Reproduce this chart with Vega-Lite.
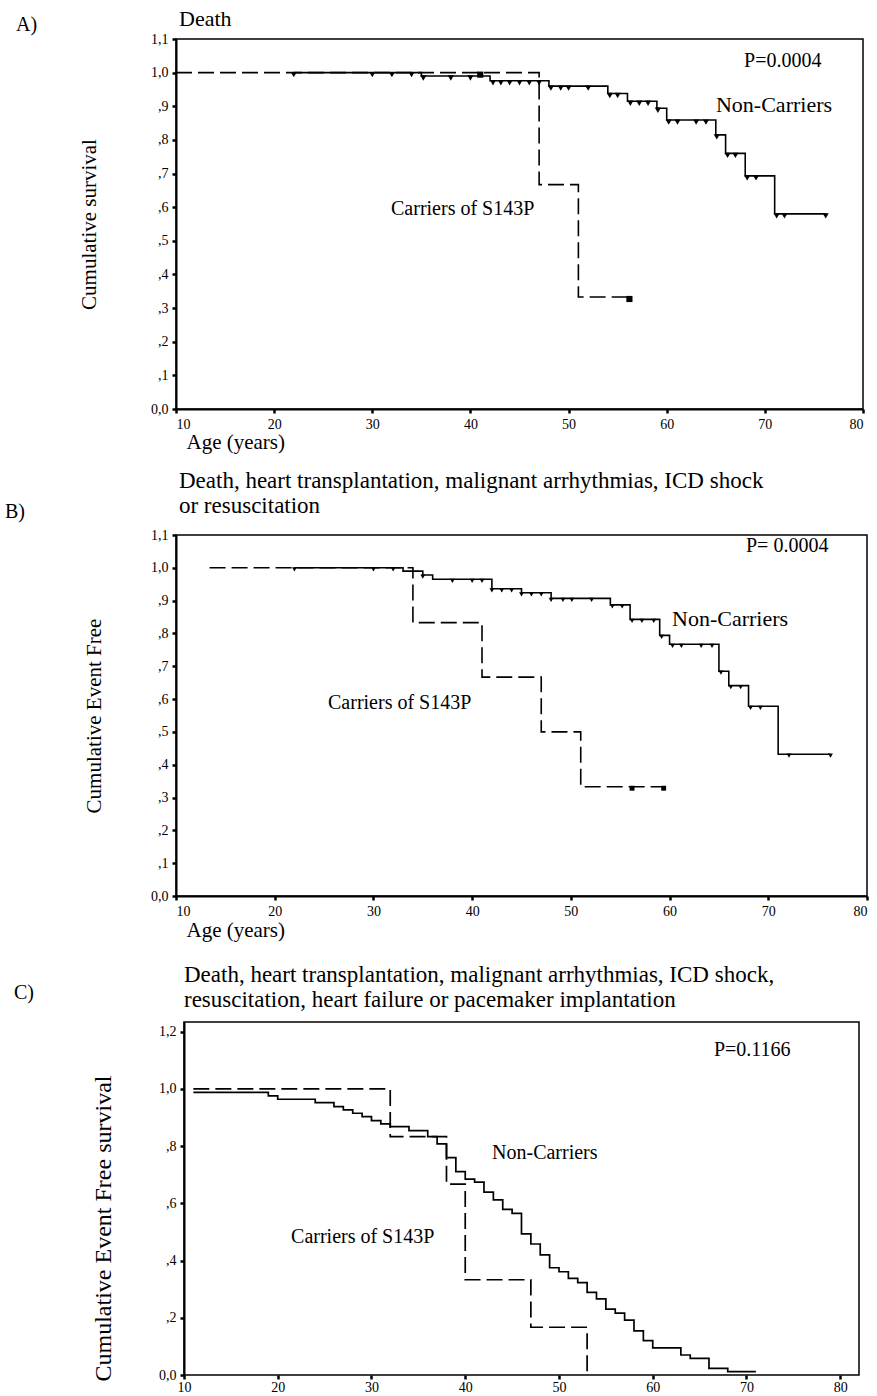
{
  "$schema": "https://vega.github.io/schema/vega-lite/v6.json",
  "padding": {"left": 4, "top": 7, "right": 5, "bottom": 0},
  "bounds": "flush",
  "spacing": 126,
  "config": {
    "font": "Liberation Serif",
    "view": {"stroke": "black", "strokeWidth": 1.5},
    "axis": {"grid": false, "domainColor": "black", "domainWidth": 2, "tickColor": "black", "tickWidth": 2.5, "tickSize": 4, "labelColor": "black", "labelFont": "Liberation Serif", "labelFontSize": 14, "labelPadding": 4, "labelOverlap": false, "titleFont": "Liberation Serif", "titleFontWeight": "normal", "titleColor": "black", "titleFontSize": 21},
    "text": {"font": "Liberation Serif", "color": "black"}
  },
  "datasets": {
    "a_curve": [
      {"age": 22, "surv": 1.0, "group": "Non-Carriers"},
      {"age": 35, "surv": 0.99, "group": "Non-Carriers"},
      {"age": 42, "surv": 0.976, "group": "Non-Carriers"},
      {"age": 48, "surv": 0.96, "group": "Non-Carriers"},
      {"age": 54, "surv": 0.938, "group": "Non-Carriers"},
      {"age": 56, "surv": 0.915, "group": "Non-Carriers"},
      {"age": 59, "surv": 0.894, "group": "Non-Carriers"},
      {"age": 60, "surv": 0.859, "group": "Non-Carriers"},
      {"age": 65, "surv": 0.815, "group": "Non-Carriers"},
      {"age": 66, "surv": 0.76, "group": "Non-Carriers"},
      {"age": 68, "surv": 0.693, "group": "Non-Carriers"},
      {"age": 71, "surv": 0.58, "group": "Non-Carriers"},
      {"age": 76.2, "surv": 0.58, "group": "Non-Carriers"},
      {"age": 10, "surv": 1.0, "group": "Carriers"},
      {"age": 47, "surv": 0.667, "group": "Carriers"},
      {"age": 51, "surv": 0.333, "group": "Carriers"},
      {"age": 56.2, "surv": 0.333, "group": "Carriers"}
    ],
    "a_censor": [
      {"age": 22, "surv": 1.0, "group": "Non-Carriers"},
      {"age": 30, "surv": 1.0, "group": "Non-Carriers"},
      {"age": 32, "surv": 1.0, "group": "Non-Carriers"},
      {"age": 34, "surv": 1.0, "group": "Non-Carriers"},
      {"age": 35.2, "surv": 0.99, "group": "Non-Carriers"},
      {"age": 38, "surv": 0.99, "group": "Non-Carriers"},
      {"age": 40, "surv": 0.99, "group": "Non-Carriers"},
      {"age": 42.3, "surv": 0.976, "group": "Non-Carriers"},
      {"age": 43.1, "surv": 0.976, "group": "Non-Carriers"},
      {"age": 44, "surv": 0.976, "group": "Non-Carriers"},
      {"age": 45, "surv": 0.976, "group": "Non-Carriers"},
      {"age": 46, "surv": 0.976, "group": "Non-Carriers"},
      {"age": 47, "surv": 0.976, "group": "Non-Carriers"},
      {"age": 48.2, "surv": 0.96, "group": "Non-Carriers"},
      {"age": 49.2, "surv": 0.96, "group": "Non-Carriers"},
      {"age": 50, "surv": 0.96, "group": "Non-Carriers"},
      {"age": 52, "surv": 0.96, "group": "Non-Carriers"},
      {"age": 54.2, "surv": 0.938, "group": "Non-Carriers"},
      {"age": 55, "surv": 0.938, "group": "Non-Carriers"},
      {"age": 56.3, "surv": 0.915, "group": "Non-Carriers"},
      {"age": 57.2, "surv": 0.915, "group": "Non-Carriers"},
      {"age": 58.1, "surv": 0.915, "group": "Non-Carriers"},
      {"age": 59.1, "surv": 0.894, "group": "Non-Carriers"},
      {"age": 60.2, "surv": 0.859, "group": "Non-Carriers"},
      {"age": 61.1, "surv": 0.859, "group": "Non-Carriers"},
      {"age": 63, "surv": 0.859, "group": "Non-Carriers"},
      {"age": 64, "surv": 0.859, "group": "Non-Carriers"},
      {"age": 65.1, "surv": 0.815, "group": "Non-Carriers"},
      {"age": 66.2, "surv": 0.76, "group": "Non-Carriers"},
      {"age": 67, "surv": 0.76, "group": "Non-Carriers"},
      {"age": 68.2, "surv": 0.693, "group": "Non-Carriers"},
      {"age": 69.1, "surv": 0.693, "group": "Non-Carriers"},
      {"age": 71.2, "surv": 0.58, "group": "Non-Carriers"},
      {"age": 72, "surv": 0.58, "group": "Non-Carriers"},
      {"age": 76.2, "surv": 0.58, "group": "Non-Carriers"},
      {"age": 41, "surv": 1.0, "group": "Carriers"},
      {"age": 56.2, "surv": 0.333, "group": "Carriers"}
    ],
    "b_curve": [
      {"age": 22, "surv": 1.0, "group": "Non-Carriers"},
      {"age": 33, "surv": 0.99, "group": "Non-Carriers"},
      {"age": 35, "surv": 0.978, "group": "Non-Carriers"},
      {"age": 36, "surv": 0.965, "group": "Non-Carriers"},
      {"age": 42, "surv": 0.936, "group": "Non-Carriers"},
      {"age": 45, "surv": 0.924, "group": "Non-Carriers"},
      {"age": 48, "surv": 0.907, "group": "Non-Carriers"},
      {"age": 54, "surv": 0.887, "group": "Non-Carriers"},
      {"age": 56, "surv": 0.843, "group": "Non-Carriers"},
      {"age": 59, "surv": 0.794, "group": "Non-Carriers"},
      {"age": 60, "surv": 0.767, "group": "Non-Carriers"},
      {"age": 65, "surv": 0.685, "group": "Non-Carriers"},
      {"age": 66, "surv": 0.641, "group": "Non-Carriers"},
      {"age": 68, "surv": 0.578, "group": "Non-Carriers"},
      {"age": 71, "surv": 0.432, "group": "Non-Carriers"},
      {"age": 76.3, "surv": 0.432, "group": "Non-Carriers"},
      {"age": 13.4, "surv": 1.0, "group": "Carriers"},
      {"age": 34, "surv": 0.833, "group": "Carriers"},
      {"age": 41, "surv": 0.667, "group": "Carriers"},
      {"age": 47, "surv": 0.5, "group": "Carriers"},
      {"age": 51, "surv": 0.333, "group": "Carriers"},
      {"age": 59.4, "surv": 0.333, "group": "Carriers"}
    ],
    "b_censor": [
      {"age": 22, "surv": 1.0, "group": "Non-Carriers"},
      {"age": 30, "surv": 1.0, "group": "Non-Carriers"},
      {"age": 32, "surv": 1.0, "group": "Non-Carriers"},
      {"age": 35, "surv": 0.978, "group": "Non-Carriers"},
      {"age": 38, "surv": 0.965, "group": "Non-Carriers"},
      {"age": 40, "surv": 0.965, "group": "Non-Carriers"},
      {"age": 41, "surv": 0.965, "group": "Non-Carriers"},
      {"age": 42, "surv": 0.936, "group": "Non-Carriers"},
      {"age": 43, "surv": 0.936, "group": "Non-Carriers"},
      {"age": 44, "surv": 0.936, "group": "Non-Carriers"},
      {"age": 45, "surv": 0.924, "group": "Non-Carriers"},
      {"age": 46, "surv": 0.924, "group": "Non-Carriers"},
      {"age": 47, "surv": 0.924, "group": "Non-Carriers"},
      {"age": 48, "surv": 0.907, "group": "Non-Carriers"},
      {"age": 49.2, "surv": 0.907, "group": "Non-Carriers"},
      {"age": 50.1, "surv": 0.907, "group": "Non-Carriers"},
      {"age": 52.1, "surv": 0.907, "group": "Non-Carriers"},
      {"age": 54.2, "surv": 0.887, "group": "Non-Carriers"},
      {"age": 55.2, "surv": 0.887, "group": "Non-Carriers"},
      {"age": 56.2, "surv": 0.843, "group": "Non-Carriers"},
      {"age": 57.2, "surv": 0.843, "group": "Non-Carriers"},
      {"age": 58.4, "surv": 0.843, "group": "Non-Carriers"},
      {"age": 59.2, "surv": 0.794, "group": "Non-Carriers"},
      {"age": 60.3, "surv": 0.767, "group": "Non-Carriers"},
      {"age": 61.2, "surv": 0.767, "group": "Non-Carriers"},
      {"age": 63.2, "surv": 0.767, "group": "Non-Carriers"},
      {"age": 64.3, "surv": 0.767, "group": "Non-Carriers"},
      {"age": 65.2, "surv": 0.685, "group": "Non-Carriers"},
      {"age": 66.2, "surv": 0.641, "group": "Non-Carriers"},
      {"age": 67.2, "surv": 0.641, "group": "Non-Carriers"},
      {"age": 68.2, "surv": 0.578, "group": "Non-Carriers"},
      {"age": 69.2, "surv": 0.578, "group": "Non-Carriers"},
      {"age": 72.1, "surv": 0.432, "group": "Non-Carriers"},
      {"age": 76.3, "surv": 0.432, "group": "Non-Carriers"},
      {"age": 56.2, "surv": 0.333, "group": "Carriers"},
      {"age": 59.4, "surv": 0.333, "group": "Carriers"}
    ],
    "c_curve": [
      {"age": 11, "surv": 0.988, "group": "Non-Carriers"},
      {"age": 19, "surv": 0.976, "group": "Non-Carriers"},
      {"age": 20, "surv": 0.964, "group": "Non-Carriers"},
      {"age": 24, "surv": 0.952, "group": "Non-Carriers"},
      {"age": 26, "surv": 0.938, "group": "Non-Carriers"},
      {"age": 27, "surv": 0.927, "group": "Non-Carriers"},
      {"age": 28, "surv": 0.915, "group": "Non-Carriers"},
      {"age": 29, "surv": 0.903, "group": "Non-Carriers"},
      {"age": 30, "surv": 0.889, "group": "Non-Carriers"},
      {"age": 31, "surv": 0.878, "group": "Non-Carriers"},
      {"age": 32, "surv": 0.868, "group": "Non-Carriers"},
      {"age": 34, "surv": 0.854, "group": "Non-Carriers"},
      {"age": 36, "surv": 0.833, "group": "Non-Carriers"},
      {"age": 37, "surv": 0.808, "group": "Non-Carriers"},
      {"age": 38, "surv": 0.76, "group": "Non-Carriers"},
      {"age": 39, "surv": 0.711, "group": "Non-Carriers"},
      {"age": 40, "surv": 0.685, "group": "Non-Carriers"},
      {"age": 41, "surv": 0.674, "group": "Non-Carriers"},
      {"age": 42, "surv": 0.639, "group": "Non-Carriers"},
      {"age": 43, "surv": 0.612, "group": "Non-Carriers"},
      {"age": 44, "surv": 0.579, "group": "Non-Carriers"},
      {"age": 45, "surv": 0.565, "group": "Non-Carriers"},
      {"age": 46, "surv": 0.493, "group": "Non-Carriers"},
      {"age": 47, "surv": 0.458, "group": "Non-Carriers"},
      {"age": 48, "surv": 0.42, "group": "Non-Carriers"},
      {"age": 49, "surv": 0.375, "group": "Non-Carriers"},
      {"age": 50, "surv": 0.361, "group": "Non-Carriers"},
      {"age": 51, "surv": 0.338, "group": "Non-Carriers"},
      {"age": 52, "surv": 0.323, "group": "Non-Carriers"},
      {"age": 53, "surv": 0.289, "group": "Non-Carriers"},
      {"age": 54, "surv": 0.266, "group": "Non-Carriers"},
      {"age": 55, "surv": 0.23, "group": "Non-Carriers"},
      {"age": 56, "surv": 0.216, "group": "Non-Carriers"},
      {"age": 57, "surv": 0.192, "group": "Non-Carriers"},
      {"age": 58, "surv": 0.154, "group": "Non-Carriers"},
      {"age": 59, "surv": 0.12, "group": "Non-Carriers"},
      {"age": 60, "surv": 0.095, "group": "Non-Carriers"},
      {"age": 63, "surv": 0.07, "group": "Non-Carriers"},
      {"age": 64, "surv": 0.058, "group": "Non-Carriers"},
      {"age": 66, "surv": 0.023, "group": "Non-Carriers"},
      {"age": 68, "surv": 0.012, "group": "Non-Carriers"},
      {"age": 71, "surv": 0.012, "group": "Non-Carriers"},
      {"age": 11, "surv": 1.0, "group": "Carriers"},
      {"age": 32, "surv": 0.833, "group": "Carriers"},
      {"age": 38, "surv": 0.667, "group": "Carriers"},
      {"age": 40, "surv": 0.333, "group": "Carriers"},
      {"age": 47, "surv": 0.167, "group": "Carriers"},
      {"age": 53, "surv": 0.0, "group": "Carriers"}
    ]
  },
  "vconcat": [
    {
      "width": 687,
      "height": 370,
      "layer": [
        {
          "data": {"name": "a_curve"},
          "mark": {"type": "line", "interpolate": "step-after", "color": "black", "strokeWidth": 1.6},
          "encoding": {
            "x": {"field": "age", "type": "quantitative", "scale": {"domain": [10, 80], "nice": false, "zero": false},
              "axis": {"title": "Age (years)", "values": [10, 20, 30, 40, 50, 60, 70, 80], "tickCount": 8, "format": "d", "labelOverlap": false, "titleAnchor": "start", "titleAlign": "left", "titleX": 10, "titleY": 33, "titleBaseline": "middle"}},
            "y": {"field": "surv", "type": "quantitative", "scale": {"domain": [0, 1.1], "nice": false, "zero": false},
              "axis": {"title": "Cumulative survival", "values": [0, 0.1, 0.2, 0.3, 0.4, 0.5, 0.6, 0.7, 0.8, 0.9, 1, 1.1], "tickCount": 12, "labelOverlap": false, "labelExpr": "replace(datum.value > 0 && datum.value < 1 ? substring(format(datum.value, '.1f'), 1) : format(datum.value, '.1f'), '.', ',')", "titleX": -87, "titleBaseline": "middle"}},
            "strokeDash": {"field": "group", "type": "nominal", "scale": {"domain": ["Carriers", "Non-Carriers"], "range": [[16, 6], [1, 0]]}, "legend": null}
          }
        },
        {
          "data": {"name": "a_censor"},
          "mark": {"type": "point", "filled": true, "color": "black", "opacity": 1, "yOffset": 2},
          "encoding": {
            "x": {"field": "age", "type": "quantitative"},
            "y": {"field": "surv", "type": "quantitative"},
            "shape": {"field": "group", "type": "nominal", "scale": {"domain": ["Carriers", "Non-Carriers"], "range": ["square", "triangle-down"]}, "legend": null},
            "size": {"value": 38}
          }
        },
        {"data": {"values": [{}]}, "mark": {"type": "text", "align": "left", "baseline": "middle", "fontSize": 20}, "encoding": {"x": {"datum": -6.3}, "y": {"datum": 1.1416}, "text": {"value": "A)"}}},
        {"data": {"values": [{}]}, "mark": {"type": "text", "align": "left", "baseline": "alphabetic", "fontSize": 22}, "encoding": {"x": {"datum": 10.31}, "y": {"datum": 1.1387}, "text": {"value": "Death"}}},
        {"data": {"values": [{}]}, "mark": {"type": "text", "align": "left", "baseline": "middle", "fontSize": 20}, "encoding": {"x": {"datum": 67.88}, "y": {"datum": 1.0346}, "text": {"value": "P=0.0004"}}},
        {"data": {"values": [{}]}, "mark": {"type": "text", "align": "left", "baseline": "middle", "fontSize": 22}, "encoding": {"x": {"datum": 65.02}, "y": {"datum": 0.9038}, "text": {"value": "Non-Carriers"}}},
        {"data": {"values": [{}]}, "mark": {"type": "text", "align": "left", "baseline": "middle", "fontSize": 20}, "encoding": {"x": {"datum": 31.91}, "y": {"datum": 0.5946}, "text": {"value": "Carriers of S143P"}}}
      ]
    },
    {
      "width": 691,
      "height": 361,
      "layer": [
        {
          "data": {"name": "b_curve"},
          "mark": {"type": "line", "interpolate": "step-after", "color": "black", "strokeWidth": 1.6},
          "encoding": {
            "x": {"field": "age", "type": "quantitative", "scale": {"domain": [10, 80], "nice": false, "zero": false},
              "axis": {"title": "Age (years)", "values": [10, 20, 30, 40, 50, 60, 70, 80], "tickCount": 8, "format": "d", "labelOverlap": false, "titleAnchor": "start", "titleAlign": "left", "titleX": 10, "titleY": 34, "titleBaseline": "middle"}},
            "y": {"field": "surv", "type": "quantitative", "scale": {"domain": [0, 1.1], "nice": false, "zero": false},
              "axis": {"title": "Cumulative Event Free", "values": [0, 0.1, 0.2, 0.3, 0.4, 0.5, 0.6, 0.7, 0.8, 0.9, 1, 1.1], "tickCount": 12, "labelOverlap": false, "labelExpr": "replace(datum.value > 0 && datum.value < 1 ? substring(format(datum.value, '.1f'), 1) : format(datum.value, '.1f'), '.', ',')", "titleX": -82, "titleBaseline": "middle"}},
            "strokeDash": {"field": "group", "type": "nominal", "scale": {"domain": ["Carriers", "Non-Carriers"], "range": [[13, 5], [1, 0]]}, "legend": null}
          }
        },
        {
          "data": {"name": "b_censor"},
          "mark": {"type": "point", "filled": true, "color": "black", "opacity": 1, "yOffset": 1.5},
          "encoding": {
            "x": {"field": "age", "type": "quantitative"},
            "y": {"field": "surv", "type": "quantitative"},
            "shape": {"field": "group", "type": "nominal", "scale": {"domain": ["Carriers", "Non-Carriers"], "range": ["square", "triangle-down"]}, "legend": null},
            "size": {"value": 24}
          }
        },
        {"data": {"values": [{}]}, "mark": {"type": "text", "align": "left", "baseline": "middle", "fontSize": 20}, "encoding": {"x": {"datum": -7.32}, "y": {"datum": 1.17}, "text": {"value": "B)"}}},
        {"data": {"values": [{}]}, "mark": {"type": "text", "align": "left", "baseline": "alphabetic", "fontSize": 23, "lineHeight": 25}, "encoding": {"x": {"datum": 10.3}, "y": {"datum": 1.2432}, "text": {"value": ["Death, heart transplantation, malignant arrhythmias, ICD shock", "or resuscitation"]}}},
        {"data": {"values": [{}]}, "mark": {"type": "text", "align": "left", "baseline": "middle", "fontSize": 20}, "encoding": {"x": {"datum": 67.74}, "y": {"datum": 1.0665}, "text": {"value": "P= 0.0004"}}},
        {"data": {"values": [{}]}, "mark": {"type": "text", "align": "left", "baseline": "middle", "fontSize": 22}, "encoding": {"x": {"datum": 60.25}, "y": {"datum": 0.8441}, "text": {"value": "Non-Carriers"}}},
        {"data": {"values": [{}]}, "mark": {"type": "text", "align": "left", "baseline": "middle", "fontSize": 20}, "encoding": {"x": {"datum": 25.4}, "y": {"datum": 0.5881}, "text": {"value": "Carriers of S143P"}}}
      ]
    },
    {
      "width": 683,
      "height": 353,
      "view": {"stroke": null},
      "layer": [
        {
          "data": {"values": [{}]},
          "mark": {"type": "rect", "filled": false, "stroke": "black", "strokeWidth": 1.5},
          "encoding": {"x": {"datum": 10}, "x2": {"datum": 82}, "y": {"datum": 0}, "y2": {"datum": 1.234}}
        },
        {
          "data": {"name": "c_curve"},
          "mark": {"type": "line", "interpolate": "step-after", "color": "black", "strokeWidth": 1.7},
          "encoding": {
            "x": {"field": "age", "type": "quantitative", "scale": {"domain": [9.15, 82], "nice": false, "zero": false},
              "axis": {"title": null, "values": [10, 20, 30, 40, 50, 60, 70, 80], "tickCount": 8, "format": "d", "labelOverlap": false, "domain": false, "labelPadding": 1}},
            "y": {"field": "surv", "type": "quantitative", "scale": {"domain": [0, 1.234], "nice": false, "zero": false},
              "axis": {"title": "Cumulative Event Free survival", "titleFontSize": 24, "offset": -8, "values": [0, 0.2, 0.4, 0.6, 0.8, 1, 1.2], "tickCount": 7, "labelOverlap": false, "labelExpr": "replace(datum.value > 0 && datum.value < 1 ? substring(format(datum.value, '.1f'), 1) : format(datum.value, '.1f'), '.', ',')", "titleX": -81, "titleY": 206, "titleBaseline": "middle"}},
            "strokeDash": {"field": "group", "type": "nominal", "scale": {"domain": ["Carriers", "Non-Carriers"], "range": [[16, 7], [1, 0]]}, "legend": null}
          }
        },
        {"data": {"values": [{}]}, "mark": {"type": "text", "align": "left", "baseline": "middle", "fontSize": 20}, "encoding": {"x": {"datum": -8.13}, "y": {"datum": 1.3357}, "text": {"value": "C)"}}},
        {"data": {"values": [{}]}, "mark": {"type": "text", "align": "left", "baseline": "alphabetic", "fontSize": 23, "lineHeight": 25}, "encoding": {"x": {"datum": 10.0}, "y": {"datum": 1.3741}, "text": {"value": ["Death, heart transplantation, malignant arrhythmias, ICD shock,", "resuscitation, heart failure or pacemaker implantation"]}}},
        {"data": {"values": [{}]}, "mark": {"type": "text", "align": "left", "baseline": "middle", "fontSize": 20}, "encoding": {"x": {"datum": 66.53}, "y": {"datum": 1.1364}, "text": {"value": "P=0.1166"}}},
        {"data": {"values": [{}]}, "mark": {"type": "text", "align": "left", "baseline": "middle", "fontSize": 20}, "encoding": {"x": {"datum": 42.86}, "y": {"datum": 0.7762}, "text": {"value": "Non-Carriers"}}},
        {"data": {"values": [{}]}, "mark": {"type": "text", "align": "left", "baseline": "middle", "fontSize": 20}, "encoding": {"x": {"datum": 21.42}, "y": {"datum": 0.4825}, "text": {"value": "Carriers of S143P"}}}
      ]
    }
  ]
}
